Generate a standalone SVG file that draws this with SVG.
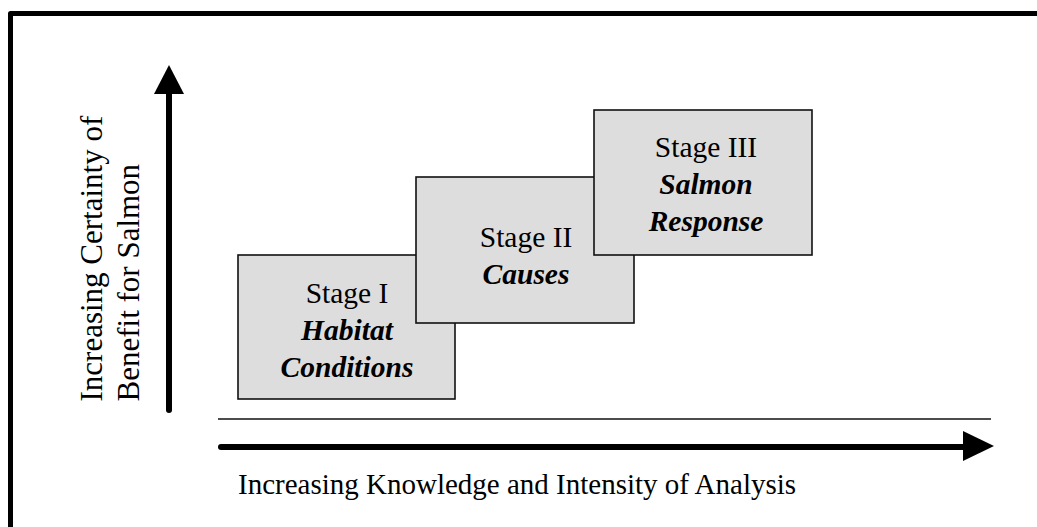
<svg xmlns="http://www.w3.org/2000/svg" width="1037" height="527" viewBox="0 0 1037 527">
  <style>
    .box { fill: #dddddd; stroke: #111111; stroke-width: 1.6; }
    .t { font-family: "Liberation Serif", "Times New Roman", serif; fill: #000000; }
    .stage { font-size: 29.5px; text-anchor: middle; }
    .bi { font-weight: bold; font-style: italic; }
    .axis { font-size: 31px; }
    .axisx { font-size: 29px; }
  </style>
  <rect x="0" y="0" width="1037" height="527" fill="#ffffff"/>
  <path d="M10.5,535 V13.5 H1045" fill="none" stroke="#000" stroke-width="5" stroke-linejoin="round"/>

  <g id="connectors">
    <line x1="169" y1="410" x2="169" y2="92" stroke="#000" stroke-width="6" stroke-linecap="round"/>
    <polygon points="169,65 184,94 154,94" fill="#000"/>
    <line x1="218" y1="419" x2="991" y2="419" stroke="#111" stroke-width="1.5"/>
    <line x1="221" y1="447" x2="965" y2="447" stroke="#000" stroke-width="6" stroke-linecap="round"/>
    <polygon points="994,446 963,431 963,461" fill="#000"/>
  </g>

  <g id="stage1">
    <rect class="box" x="238" y="255" width="217" height="144"/>
    <text class="t stage" x="347" y="303">Stage I</text>
    <text class="t stage bi" x="347" y="340">Habitat</text>
    <text class="t stage bi" x="347" y="377">Conditions</text>
  </g>
  <g id="stage2">
    <rect class="box" x="416" y="177" width="218" height="146"/>
    <text class="t stage" x="526" y="247">Stage II</text>
    <text class="t stage bi" x="526" y="284">Causes</text>
  </g>
  <g id="stage3">
    <rect class="box" x="594" y="110" width="218" height="145"/>
    <text class="t stage" x="706" y="157">Stage III</text>
    <text class="t stage bi" x="706" y="194">Salmon</text>
    <text class="t stage bi" x="706" y="231">Response</text>
  </g>

  <g id="y-label">
    <text class="t axis" transform="translate(102,401.5) rotate(-90)">Increasing Certainty of</text>
    <text class="t axis" transform="translate(138.5,401.5) rotate(-90)">Benefit for Salmon</text>
  </g>
  <g id="x-label">
    <text class="t axisx" x="238" y="494">Increasing Knowledge and Intensity of Analysis</text>
  </g>
</svg>
